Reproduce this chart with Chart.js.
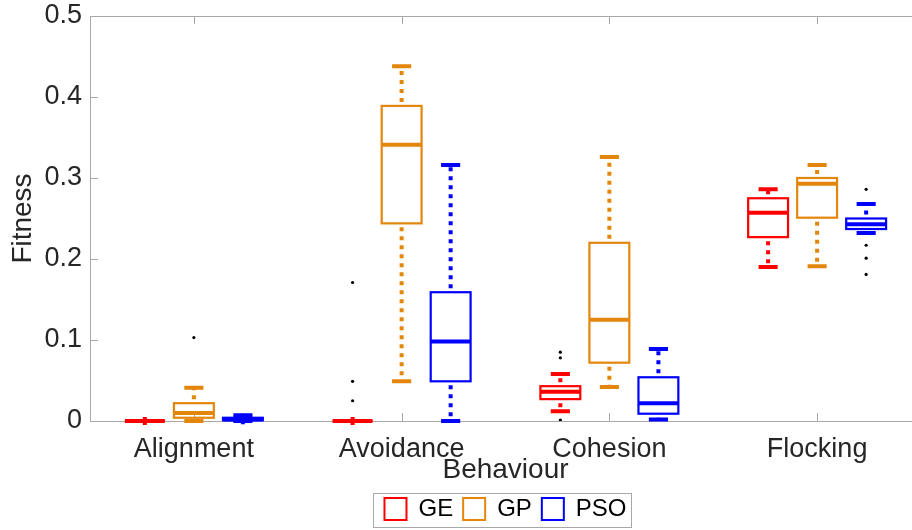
<!DOCTYPE html>
<html lang="en">
<head>
<meta charset="UTF-8">
<title>Fitness by behaviour</title>
<script src="https://cdn.jsdelivr.net/npm/chart.js"></script>
<style>
    html, body { margin: 0; padding: 0; background: #fff; overflow: hidden; }
    #wrap { width: 912px; height: 530px; overflow: hidden; position: relative; }
    /* axes run a little past the right edge, like the original figure */
    #box { width: 930px; height: 530px; position: absolute; left: 0; top: 0; }
</style>
</head>
<body>
<div id="wrap"><div id="box"><canvas id="fitChart"></canvas></div></div>

<script>
    const behaviours = ['Alignment', 'Avoidance', 'Cohesion', 'Flocking'];
    const methods = ['GE', 'GP', 'PSO'];
    const methodColors = ['#ff0000', '#e3860b', '#0000ff'];

    // box stats, one value per behaviour
    const geLow  = [0, 0, 0.012, 0.190];
    const geQ1   = [0, 0, 0.027, 0.227];
    const geMed  = [0, 0, 0.036, 0.257];
    const geQ3   = [0, 0, 0.043, 0.275];
    const geHigh = [0, 0, 0.058, 0.286];

    const gpLow  = [0, 0.049, 0.042, 0.191];
    const gpQ1   = [0.004, 0.244, 0.072, 0.251];
    const gpMed  = [0.010, 0.341, 0.125, 0.293];
    const gpQ3   = [0.022, 0.389, 0.220, 0.300];
    const gpHigh = [0.041, 0.438, 0.326, 0.316];

    const psoLow  = [0, 0, 0.002, 0.232];
    const psoQ1   = [0.001, 0.049, 0.009, 0.237];
    const psoMed  = [0.002, 0.098, 0.022, 0.243];
    const psoQ3   = [0.004, 0.159, 0.054, 0.250];
    const psoHigh = [0.007, 0.316, 0.089, 0.268];

    // outliers per behaviour
    const geOutliers  = [[], [0.171, 0.049, 0.025], [0.085, 0.078, 0.001], []];
    const gpOutliers  = [[0.103], [], [], []];
    const psoOutliers = [[], [], [], [0.286, 0.217, 0.201, 0.181]];

    const yTicks = [0, 0.1, 0.2, 0.3, 0.4, 0.5];

    const stats = [
        { low: geLow, q1: geQ1, med: geMed, q3: geQ3, high: geHigh },
        { low: gpLow, q1: gpQ1, med: gpMed, q3: gpQ3, high: gpHigh },
        { low: psoLow, q1: psoQ1, med: psoMed, q3: psoQ3, high: psoHigh }
    ];
    const outliers = [geOutliers, gpOutliers, psoOutliers];
    const groupShift = [-0.236, 0, 0.236];
    const boxHalf = 0.096;
    const capHalf = 0.046;
    const axisGray = '#a8a8a8';
    const textColor = '#262626';

    Chart.defaults.font.family = '"Liberation Sans", Arial, sans-serif';

    // frame + inward tick marks
    const framePlugin = {
        id: 'frame',
        beforeDatasetsDraw(chart) {
            const { ctx, chartArea: a, scales: { x, y } } = chart;
            ctx.save();
            ctx.strokeStyle = axisGray;
            ctx.lineWidth = 1;
            ctx.beginPath();
            ctx.rect(a.left + 0.5, a.top + 0.5, a.right - a.left, a.bottom - a.top);
            yTicks.forEach(v => {
                const py = Math.round(y.getPixelForValue(v)) + 0.5;
                ctx.moveTo(a.left, py); ctx.lineTo(a.left + 8, py);
                ctx.moveTo(a.right, py); ctx.lineTo(a.right - 8, py);
            });
            behaviours.forEach((b, i) => {
                const px = Math.round(x.getPixelForValue(i + 1)) + 0.5;
                ctx.moveTo(px, a.bottom); ctx.lineTo(px, a.bottom - 8);
                ctx.moveTo(px, a.top); ctx.lineTo(px, a.top + 8);
            });
            ctx.stroke();
            ctx.restore();
        },
        afterDatasetsDraw(chart) {
            // boxes, whiskers, caps, medians
            const { ctx, scales: { x, y } } = chart;
            ctx.save();
            stats.forEach((s, m) => {
                ctx.strokeStyle = methodColors[m];
                behaviours.forEach((b, i) => {
                    const c = i + 1 + groupShift[m];
                    const cx = x.getPixelForValue(c);
                    const l = x.getPixelForValue(c - boxHalf), r = x.getPixelForValue(c + boxHalf);
                    const cl = x.getPixelForValue(c - capHalf), cr = x.getPixelForValue(c + capHalf);
                    const yLow = y.getPixelForValue(s.low[i]), yQ1 = y.getPixelForValue(s.q1[i]);
                    const yMed = y.getPixelForValue(s.med[i]), yQ3 = y.getPixelForValue(s.q3[i]);
                    const yHigh = y.getPixelForValue(s.high[i]);

                    // dotted whiskers
                    ctx.lineWidth = 4;
                    ctx.setLineDash([4, 5]);
                    ctx.beginPath();
                    ctx.moveTo(cx, yQ3 - 4); ctx.lineTo(cx, yHigh);
                    ctx.moveTo(cx, yQ1 + 4); ctx.lineTo(cx, yLow);
                    ctx.stroke();
                    ctx.setLineDash([]);

                    // caps
                    ctx.beginPath();
                    ctx.moveTo(cl, yHigh); ctx.lineTo(cr, yHigh);
                    ctx.moveTo(cl, yLow); ctx.lineTo(cr, yLow);
                    ctx.stroke();

                    // box
                    ctx.lineWidth = 2.2;
                    ctx.strokeRect(l, yQ3, r - l, yQ1 - yQ3);

                    // median
                    ctx.lineWidth = 4;
                    ctx.beginPath();
                    ctx.moveTo(l, yMed); ctx.lineTo(r, yMed);
                    ctx.stroke();
                });
            });
            ctx.restore();
        },
        afterDraw(chart) {
            // border round the legend
            const lg = chart.legend;
            if (!lg || !lg.legendHitBoxes.length) return;
            const hb = lg.legendHitBoxes;
            const last = hb[hb.length - 1];
            const ctx = chart.ctx;
            ctx.save();
            ctx.strokeStyle = axisGray;
            ctx.lineWidth = 1;
            const left = Math.round(hb[0].left - 11) + 0.5;
            const right = Math.round(last.left + last.width + 4) + 0.5;
            ctx.strokeRect(left, Math.round(hb[0].top - 4) + 0.5, right - left, 34);
            ctx.restore();
        }
    };

    const datasets = methods.map((m, k) => ({
        label: m,
        data: outliers[k].flatMap((vals, i) => vals.map(v => ({ x: i + 1 + groupShift[k], y: v }))),
        pointRadius: 1.6,
        pointBackgroundColor: '#000',
        pointBorderWidth: 0,
        showLine: false
    }));

    new Chart(document.getElementById('fitChart'), {
        type: 'scatter',
        data: { datasets: datasets },
        options: {
            responsive: true,
            maintainAspectRatio: false,
            animation: false,
            // slightly negative bottom pad lets the legend sit low while keeping item spacing
            layout: { padding: { top: 16, right: 9, left: 0, bottom: -1 } },
            plugins: {
                tooltip: { enabled: false },
                legend: {
                    position: 'bottom',
                    fullSize: false,
                    labels: {
                        boxWidth: 22,
                        boxHeight: 22,
                        padding: 10,
                        color: '#000',
                        font: { size: 24 },
                        generateLabels: () => methods.map((m, k) => ({
                            text: m,
                            fillStyle: 'rgba(0,0,0,0)',
                            strokeStyle: methodColors[k],
                            lineWidth: 2,
                            datasetIndex: k,
                            hidden: false
                        }))
                    }
                }
            },
            scales: {
                x: {
                    type: 'linear',
                    min: 0.5,
                    max: 4.5,
                    grid: { display: false, drawTicks: false },
                    border: { display: false },
                    afterBuildTicks: s => { s.ticks = behaviours.map((b, i) => ({ value: i + 1 })); },
                    afterFit: s => { s.height = 66; s.paddingLeft = 0; s.paddingRight = 0; },
                    ticks: {
                        autoSkip: false,
                        maxRotation: 0,
                        padding: 12,
                        color: textColor,
                        font: { size: 27 },
                        callback: v => behaviours[Math.round(v) - 1]
                    },
                    title: {
                        display: true,
                        text: 'Behaviour',
                        color: textColor,
                        font: { size: 28 },
                        padding: { top: 0, bottom: 0 }
                    }
                },
                y: {
                    min: 0,
                    max: 0.5,
                    grid: { display: false, drawTicks: false },
                    border: { display: false },
                    afterBuildTicks: s => { s.ticks = yTicks.map(v => ({ value: v })); },
                    afterFit: s => { s.width = 90; s.paddingTop = 0; s.paddingBottom = 0; },
                    ticks: {
                        padding: 8,
                        color: textColor,
                        font: { size: 27 },
                        callback: v => v === 0 ? '0' : v.toFixed(1)
                    },
                    title: {
                        display: true,
                        text: 'Fitness',
                        color: textColor,
                        font: { size: 28 },
                        padding: { top: 6, bottom: 0 }
                    }
                }
            }
        },
        plugins: [framePlugin]
    });
</script>
</body>
</html>
